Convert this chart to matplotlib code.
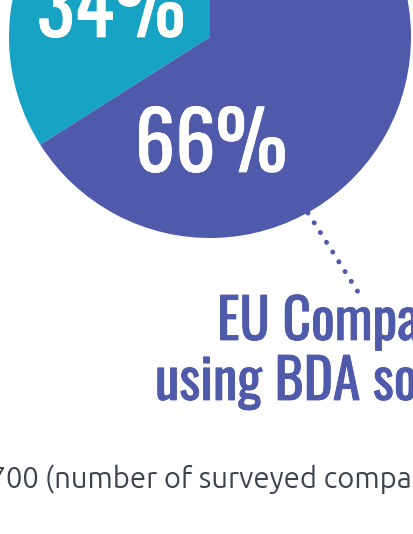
import matplotlib
matplotlib.use("Agg")
import matplotlib.pyplot as plt
from matplotlib import font_manager
import matplotlib.patheffects as pe

# ---- data ----
categories = ["Not using BDA solutions", "EU Companies using BDA solutions"]
values = [34, 66]
pct_labels = ["34%", "66%"]
colors = ["#17a3c3", "#4f5aab"]
title_lines = ["EU Companies", "using BDA solutions"]
note_prefix = "N = 700"
note_text = "(number of surveyed companies)"

W, H = 413, 534
fig = plt.figure(figsize=(W / 100, H / 100), dpi=100)
ax = fig.add_axes([0, 0, 1, 1])

names = {f.name for f in font_manager.fontManager.ttflist}
cond = "Oswald" if "Oswald" in names else "Barlow Condensed"
body = "Ubuntu" if "Ubuntu" in names else "Open Sans"

cx, cy, r = 210, H - 37, 201
ax.pie(values, colors=colors, startangle=90, counterclock=True,
       center=(cx, cy), radius=r, wedgeprops=dict(linewidth=0))
ax.set_xlim(0, W)
ax.set_ylim(0, H)
ax.set_aspect("equal")
ax.axis("off")

white_fx = [pe.withStroke(linewidth=0.5, foreground="white")]
purple_fx = [pe.withStroke(linewidth=0.6, foreground=colors[1])]

# percentage labels
ax.text(111, H - 37, pct_labels[0], color="white", fontsize=58, family=cond,
        ha="center", va="baseline", path_effects=white_fx)
ax.text(211, H - 172, pct_labels[1], color="white", fontsize=58, family=cond,
        ha="center", va="baseline", path_effects=white_fx)

# dotted leader line
ax.plot([308, 358], [H - 213, H - 292], color=colors[1], lw=3.6,
        linestyle=(0, (0.01, 2.3)), dash_capstyle="round", solid_capstyle="round")

# callout text
ax.text(217, H - 340, title_lines[0], color=colors[1], fontsize=40, family=cond,
        ha="left", va="baseline", path_effects=purple_fx)
ax.text(155, H - 400, title_lines[1], color=colors[1], fontsize=40, family=cond,
        ha="left", va="baseline", path_effects=purple_fx)

# footnote
ax.text(39, H - 488, note_prefix, color="#3b4351", fontsize=21, family=body,
        ha="right", va="baseline")
ax.text(45, H - 488, note_text, color="#3b4351", fontsize=21, family=body,
        ha="left", va="baseline")

fig.savefig("out.png", dpi=100)
